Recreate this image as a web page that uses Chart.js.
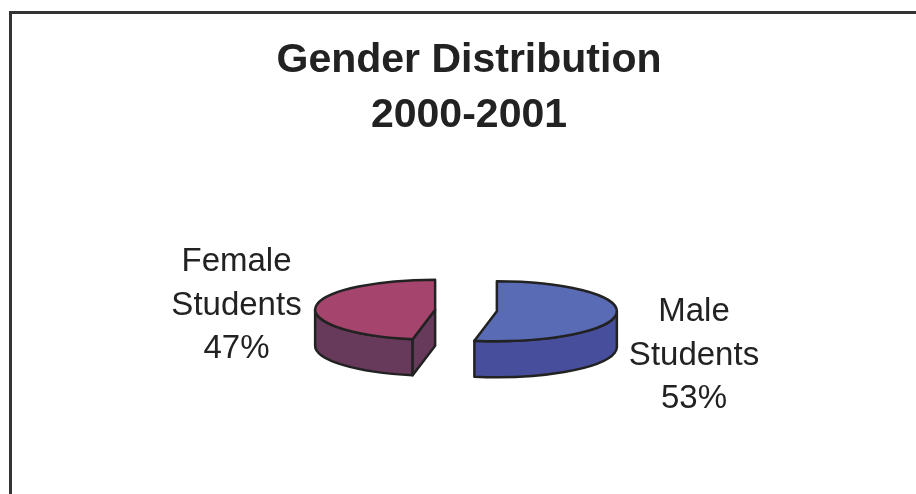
<!DOCTYPE html>
<html>
<head>
<meta charset="utf-8">
<script src="https://cdn.jsdelivr.net/npm/chart.js@4"></script>
<style>
    html, body { margin: 0; padding: 0; background: #fff; overflow: hidden; }
    #frame { position: absolute; left: 9px; top: 11px; right: 0; bottom: 0; border-left: 3px solid #333; border-top: 3px solid #333; }
    #genderChart { position: absolute; left: 0; top: 0; }
</style>
</head>
<body>
<div id="frame"></div>
<canvas id="genderChart" width="916" height="494"></canvas>
<script>
// Données du graphique
const titleLines = ['Gender Distribution', '2000-2001'];
const categories = ['Male Students', 'Female Students'];
const shares = [53, 47];

const topColors = ['#5a6bb6', '#a5446c'];
const wallColors = ['#474f9c', '#67395a'];

const squash = 0.25;     // aplatissement de l'ellipse
const depth = 36;        // épaisseur du camembert
const shiftX = -3;       // le titre est centré à 469, le camembert à 466
const explode = 31;      // écart de chaque part par rapport au centre

// Centre réel d'une part, une fois écartée
function sliceCenter(arc) {
    const mid = (arc.startAngle + arc.endAngle) / 2;
    return {
        x: arc.x + shiftX + Math.cos(mid) * explode,
        y: arc.y + Math.sin(mid) * explode * squash
    };
}

function rimPoint(c, arc, angle) {
    return [c.x + Math.cos(angle) * arc.outerRadius, c.y + Math.sin(angle) * arc.outerRadius * squash];
}

function ellipseArc(ctx, c, arc, from, to, z, ccw) {
    ctx.ellipse(c.x, c.y + z, arc.outerRadius, arc.outerRadius * squash, 0, from, to, ccw);
}

function outlineStyle(ctx) {
    ctx.lineJoin = 'round';
    ctx.lineWidth = 2.5;
    ctx.strokeStyle = '#222';
}

// Remplace le dessin normal des parts : parois, puis face supérieure aplatie
const pie3d = {
    id: 'pie3d',
    beforeDatasetDraw(chart) {
        const ctx = chart.ctx;
        const arcs = chart.getDatasetMeta(0).data;
        arcs.forEach((arc, i) => {
            const c = sliceCenter(arc);
            ctx.save();
            outlineStyle(ctx);
            ctx.fillStyle = wallColors[i];

            // paroi extérieure : seulement la moitié avant de l'ellipse
            const from = Math.max(arc.startAngle, 0);
            const to = Math.min(arc.endAngle, Math.PI);
            ctx.beginPath();
            ellipseArc(ctx, c, arc, from, to, 0, false);
            ellipseArc(ctx, c, arc, to, from, depth, true);
            ctx.closePath();
            ctx.fill();
            ctx.stroke();

            // face coupée visible de la part de gauche
            if (arc.startAngle > 0 && arc.startAngle < Math.PI) {
                const p = rimPoint(c, arc, arc.startAngle);
                ctx.beginPath();
                ctx.moveTo(c.x, c.y);
                ctx.lineTo(p[0], p[1]);
                ctx.lineTo(p[0], p[1] + depth);
                ctx.lineTo(c.x, c.y + depth);
                ctx.closePath();
                ctx.fill();
                ctx.stroke();
            }
            ctx.restore();

            // face supérieure
            ctx.save();
            ctx.translate(c.x, c.y);
            ctx.scale(1, squash);
            ctx.translate(-arc.x, -arc.y);
            arc.draw(ctx);
            ctx.restore();

            // contour de la face supérieure
            ctx.save();
            outlineStyle(ctx);
            ctx.beginPath();
            ctx.moveTo(c.x, c.y);
            ellipseArc(ctx, c, arc, arc.startAngle, arc.endAngle, 0, false);
            ctx.closePath();
            ctx.stroke();
            ctx.restore();
        });
        return false;
    }
};

// Étiquettes sur trois lignes : nom, "Students", pourcentage
const sliceLabels = {
    id: 'sliceLabels',
    afterDraw(chart) {
        const ctx = chart.ctx;
        const anchors = [{ x: 694, y: 312 }, { x: 236.5, y: 262 }];
        ctx.save();
        ctx.font = '33px "Liberation Sans"';
        ctx.fillStyle = '#222';
        ctx.textAlign = 'center';
        ctx.textBaseline = 'middle';
        categories.forEach((name, i) => {
            const lines = [...name.split(' '), shares[i] + '%'];
            lines.forEach((line, k) => ctx.fillText(line, anchors[i].x, anchors[i].y + k * 43.5));
        });
        ctx.restore();
    }
};

new Chart(document.getElementById('genderChart').getContext('2d'), {
    type: 'pie',
    data: {
        labels: categories,
        datasets: [{
            data: shares,
            backgroundColor: topColors,
            borderWidth: 0
        }]
    },
    options: {
        responsive: false,
        animation: false,
        radius: 120,
        layout: { padding: { left: 22, top: 0, bottom: 16 } },
        plugins: {
            legend: { display: false },
            tooltip: { enabled: false },
            title: {
                display: true,
                text: titleLines,
                color: '#222',
                font: { family: '"Liberation Sans"', size: 41, weight: 'bold', lineHeight: 1.34 },
                padding: { top: 33, bottom: 0 }
            }
        }
    },
    plugins: [pie3d, sliceLabels]
});
</script>
</body>
</html>
